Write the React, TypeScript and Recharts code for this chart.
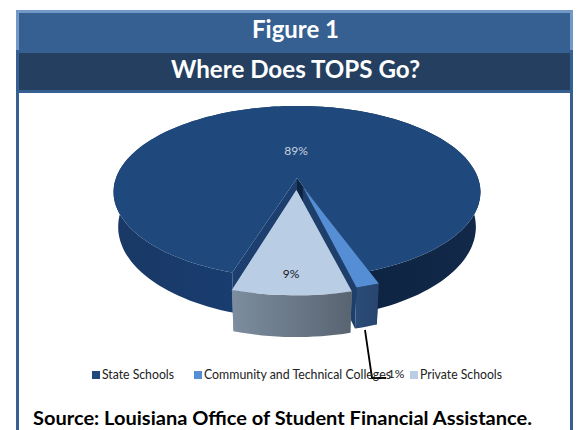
import React from 'react';
import { PieChart, Pie, Legend } from 'recharts';

const names = ['State Schools', 'Community and Technical Colleges', 'Private Schools'];
const shares = [89, 1, 9];
const topColors = ['#1f497d', '#558ed5', '#b9cde5'];
const explode = [0, 0.11, 0.14];
const widen = [0, 1.3, -0.6];
const cutColors = [['#1d3f70', '#0b2340'], ['#0f2a4e', '#1f3f6b'], ['#8a98a8', '#8a98a8']];

const pieData = names.map((name, i) => ({ name, value: shares[i], fill: topColors[i] }));

const W = 577, H = 430;
const k = 0.163;
const vRatio = 0.463;
const depthPx = 34;
const taper = 0.025;

function Sector3D(props: any) {
  const { cx, cy, outerRadius, startAngle, endAngle, payload } = props;
  const idx = names.indexOf(payload?.name ?? props.name);
  const B = outerRadius;
  const A = B * vRatio;
  const rad = (d: number) => (d * Math.PI) / 180;
  const mid = (startAngle + endAngle) / 2;
  const e = explode[idx];
  const ox = e * Math.cos(rad(mid));
  const oy = -e * Math.sin(rad(mid));
  const dir = endAngle < startAngle ? -1 : 1;
  const a0 = startAngle - dir * widen[idx];
  const a1 = endAngle + dir * widen[idx];
  const project = (a: number, r: number, d: number): [number, number] => {
    const x = r * Math.cos(rad(a)) + ox;
    const y = -r * Math.sin(rad(a)) + oy;
    const s = 1 / (1 - k * y);
    const X = cx + B * x * s;
    const Y = cy + A * y * s;
    return [cx + (X - cx) * (1 - taper * d), Y + depthPx * s * d];
  };
  const n = Math.max(4, Math.ceil(Math.abs(a1 - a0) / 2));
  const arc = (d: number) =>
    Array.from({ length: n + 1 }, (_, i) => project(a0 + ((a1 - a0) * i) / n, 1, d));
  const pts = (l: [number, number][]) => l.map((p) => p.map((v) => v.toFixed(1)).join(',')).join(' ');
  const top = [project(0, 0, 0), ...arc(0)];
  const wall = [...arc(0), ...arc(1).reverse()];
  const apex0 = project(0, 0, 0), apex1 = project(0, 0, 1);
  const cutA = [apex0, project(a0, 1, 0), project(a0, 1, 1), apex1];
  const cutB = [apex0, project(a1, 1, 0), project(a1, 1, 1), apex1];
  const gid = `wall-${idx}`;
  const stops: [number, string][][] = [
    [[0, '#193865'], [0.32, '#193d70'], [0.66, '#0c2340'], [1, '#12294a']],
    [[0, '#2a4c78'], [1, '#27456f']],
    [[0, '#7c8d9f'], [1, '#596471']],
  ];
  const xs = wall.map((p) => p[0]);
  return (
    <g>
      <defs>
        <linearGradient id={gid} gradientUnits="userSpaceOnUse" x1={Math.min(...xs)} x2={Math.max(...xs)} y1={0} y2={0}>
          {stops[idx].map(([o, c]) => <stop key={o} offset={o} stopColor={c} />)}
        </linearGradient>
      </defs>
      <polygon points={pts(cutA)} fill={cutColors[idx][0]} />
      <polygon points={pts(cutB)} fill={cutColors[idx][1]} />
      <polygon points={pts(wall)} fill={`url(#${gid})`} />
      <polygon points={pts(top)} fill={topColors[idx]} />
    </g>
  );
}

const labelSpots = [[296, 155], [396, 378], [291, 278]];
const labelInk = ['#c6d1df', '#222222', '#1a1a1a'];
const leader = [[365, 330], [372, 378], [386, 378]];

function PieLabel(props: any) {
  const { index, value } = props;
  const [x, y] = labelSpots[index];
  return (
    <g>
      {index === 1 && (
        <polyline points={leader.map((p) => p.join(',')).join(' ')} fill="none" stroke="#000" strokeWidth={1.8} />
      )}
      <text x={x} y={y} textAnchor="middle" fontFamily="Lato" fontSize={12} fill={labelInk[index]}>
        {`${Math.round(value)}%`}
      </text>
    </g>
  );
}

const legendBoxes = [92, 194, 410];
const legendWidths = [72, 187, 82];

function LegendRow() {
  return (
    <svg width={W} height={20} style={{ display: 'block' }}>
      {names.map((name, i) => (
        <g key={name}>
          <rect x={legendBoxes[i]} y={6} width={8} height={8} fill={topColors[i]} />
          <text x={legendBoxes[i] + 10} y={14} fontFamily="Lato" fontSize={12.5} fill="#222"
            textLength={legendWidths[i]} lengthAdjust="spacingAndGlyphs">{name}</text>
        </g>
      ))}
    </svg>
  );
}

const TitleText = ({ y, size, width, fill, x, anchor, children }: any) => (
  <text x={x} y={y} textAnchor={anchor} fontFamily="Lato" fontWeight={700} fontSize={size} fill={fill}
    textLength={width} lengthAdjust="spacingAndGlyphs">{children}</text>
);

export default function App() {
  return (
    <div style={{ position: 'absolute', left: 0, top: 0, width: W, height: H, background: '#fff', overflow: 'hidden' }}>
      <svg width={W} height={H} style={{ position: 'absolute', left: 0, top: 0 }}>
        <rect x={16} y={10} width={557} height={430} fill="#376092" />
        <rect x={16} y={10} width={557} height={40} fill="#7399c9" />
        <rect x={19} y={13} width={551} height={40} fill="#376092" />
        <rect x={19} y={53} width={551} height={37} fill="#243f60" />
        <rect x={19} y={93} width={551} height={340} fill="#fff" />
        <TitleText x={295.5} y={38} anchor="middle" size={24} width={87} fill="#fff">Figure 1</TitleText>
        <TitleText x={295.5} y={78} anchor="middle" size={24} width={249} fill="#fff">Where Does TOPS Go?</TitleText>
        <TitleText x={33} y={425} anchor="start" size={19.5} width={499} fill="#000">Source: Louisiana Office of Student Financial Assistance.</TitleText>
      </svg>
      <div style={{ position: 'absolute', left: 0, top: 0 }}>
        <PieChart width={W} height={H} margin={{ top: 0, right: 0, bottom: 0, left: 0 }}>
          <Legend content={<LegendRow />} wrapperStyle={{ left: 0, top: 365, width: W, height: 20 }} />
          <Pie
            data={pieData}
            dataKey="value"
            nameKey="name"
            cx={297}
            cy={178}
            outerRadius={181}
            startAngle={252.4}
            endAngle={-107.6}
            paddingAngle={0}
            stroke="none"
            isAnimationActive={false}
            shape={<Sector3D />}
            label={<PieLabel />}
            labelLine={false}
          />
        </PieChart>
      </div>
    </div>
  );
}
